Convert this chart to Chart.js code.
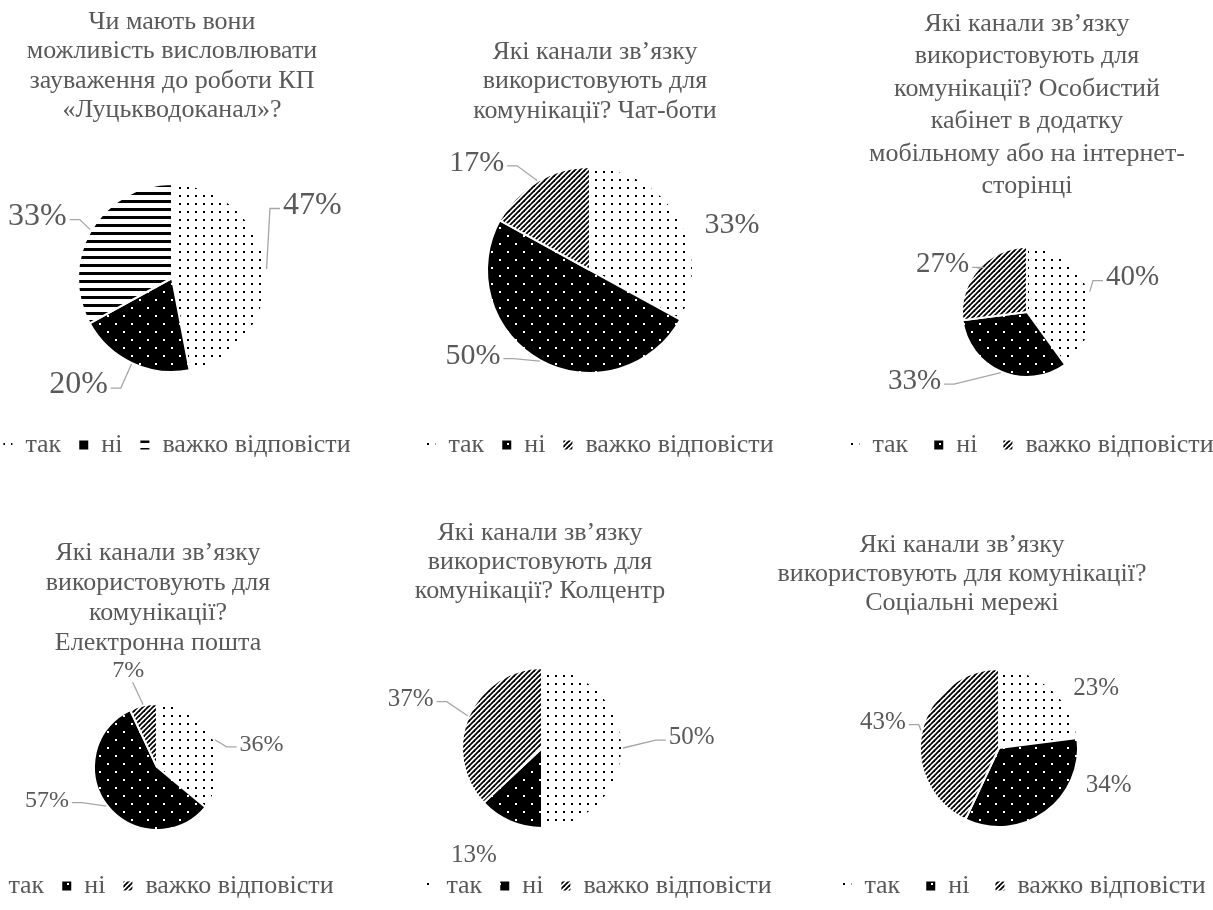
<!DOCTYPE html>
<html>
<head>
<meta charset="utf-8">
<script src="https://cdn.jsdelivr.net/npm/chart.js@4.4.1/dist/chart.umd.min.js"></script>
<style>
  html, body { margin: 0; padding: 0; background: #fff; }
  #page { position: relative; width: 1213px; height: 910px; overflow: hidden; }
  #page canvas { position: absolute; left: 0; top: 0; }
</style>
</head>
<body>
<div id="page"></div>
<script>
// ===== Data =====
const categories = ['так', 'ні', 'важко відповісти'];

const titles = [
  ['Чи мають вони', 'можливість висловлювати', 'зауваження до роботи КП', '«Луцькводоканал»?'],
  ['Які канали зв’язку', 'використовують для', 'комунікації? Чат-боти'],
  ['Які канали зв’язку', 'використовують для', 'комунікації? Особистий', 'кабінет в додатку', 'мобільному або на інтернет-', 'сторінці'],
  ['Які канали зв’язку', 'використовують для', 'комунікації?', 'Електронна пошта'],
  ['Які канали зв’язку', 'використовують для', 'комунікації? Колцентр'],
  ['Які канали зв’язку', 'використовують для комунікації?', 'Соціальні мережі']
];

const feedbackValues   = [47, 20, 33];
const chatbotValues    = [33, 50, 17];
const cabinetValues    = [40, 33, 27];
const emailValues      = [36, 57, 7];
const callCenterValues = [50, 13, 37];
const socialValues     = [23, 34, 43];

const series = [feedbackValues, chatbotValues, cabinetValues, emailValues, callCenterValues, socialValues];

// ===== Look =====
const FONT = '"Liberation Serif", "Times New Roman", serif';
const GREY = '#595959';
const LEADER = '#a6a6a6';
const TITLE_SIZE = 26;
const LEGEND_SIZE = 26;

// where each panel sits on the page (page pixels)
const panels = [
  { hatch: 'lines', title: { x: 172, y: 22, line: 29.5 }, pie: { x: 172, y: 278, r: 94 }, legend: { x: 177, y: 445, pad: 18 }, labelSize: 32,
    labels: [{ turn: -22, dist: 158, line: true }, { turn: 16, dist: 142, line: true }, { turn: -6, dist: 148, line: true }] },
  { hatch: 'diag', title: { x: 595, y: 52, line: 29.5 }, pie: { x: 590, y: 270, r: 103 }, legend: { x: 600, y: 445, pad: 18 }, labelSize: 30,
    labels: [{ turn: 13, dist: 149, line: false }, { turn: 25, dist: 145, line: true }, { turn: -16, dist: 156, line: true }] },
  { hatch: 'diag', title: { x: 1027, y: 24, line: 32.5 }, pie: { x: 1027, y: 312, r: 65 }, legend: { x: 1032, y: 445, pad: 26 }, labelSize: 29,
    labels: [{ turn: 0, dist: 111, line: true }, { turn: 35, dist: 132, line: true }, { turn: -12, dist: 97, line: true }] },
  { hatch: 'diag', title: { x: 158, y: 553, line: 30 }, pie: { x: 157, y: 767, r: 63 }, legend: { x: 160, y: 886, pad: 18 }, labelSize: 24,
    labels: [{ turn: 13, dist: 107, line: true }, { turn: 21, dist: 115, line: true }, { turn: -4, dist: 101, line: true }] },
  { hatch: 'diag', title: { x: 540, y: 533, line: 29 }, pie: { x: 542, y: 748, r: 80 }, legend: { x: 598, y: 886, pad: 18 }, labelSize: 25,
    labels: [{ turn: -4, dist: 150, line: true }, { turn: 9, dist: 127, line: false }, { turn: -3, dist: 140, line: true }] },
  { hatch: 'diag', title: { x: 962, y: 545, line: 29 }, pie: { x: 999, y: 748, r: 79 }, legend: { x: 1024, y: 886, pad: 26 }, labelSize: 25,
    labels: [{ turn: 17, dist: 114, line: false }, { turn: -35, dist: 116, line: false }, { turn: 0, dist: 119, line: true }] }
];

// ===== Pattern fills =====
function tile(w, h, paint) {
  const c = document.createElement('canvas');
  c.width = w; c.height = h;
  const g = c.getContext('2d');
  paint(g);
  return g.createPattern(c, 'repeat');
}

const lightDots = tile(8, 8, g => {
  g.fillStyle = '#fff'; g.fillRect(0, 0, 8, 8);
  g.fillStyle = '#000'; g.fillRect(3, 3, 2, 2);
});

const darkDots = tile(16, 16, g => {
  g.fillStyle = '#000'; g.fillRect(0, 0, 16, 16);
  g.fillStyle = '#fff'; g.fillRect(3, 3, 2, 2); g.fillRect(11, 11, 2, 2);
});

const stripes = tile(8, 8, g => {
  g.fillStyle = '#fff'; g.fillRect(0, 0, 8, 8);
  g.fillStyle = '#000'; g.fillRect(0, 0, 8, 3);
});

const diagonal = tile(5, 5, g => {
  g.fillStyle = '#fff'; g.fillRect(0, 0, 5, 5);
  g.strokeStyle = '#000'; g.lineWidth = 1.8;
  [-5, 0, 5].forEach(o => {
    g.beginPath(); g.moveTo(o - 1, 6); g.lineTo(o + 6, -1); g.stroke();
  });
});

// ===== Plugins =====
// puts title, legend and pie where the panel says
const placePlugin = {
  id: 'place',
  afterLayout(chart, args, opts) {
    const s = opts.spec;
    const t = chart.titleBlock;
    const tw = t.right - t.left, th = t.bottom - t.top;
    t.left = s.title.x - tw / 2; t.right = t.left + tw;
    t.top = s.title.y - s.title.line / 2; t.bottom = t.top + th;

    const l = chart.legend;
    const lw = l.right - l.left, lh = l.bottom - l.top;
    l.left = s.legend.x - lw / 2; l.right = l.left + lw;
    l.top = s.legend.y - s.legend.pad - LEGEND_SIZE / 2; l.bottom = l.top + lh;

    const { x, y, r } = s.pie;
    chart.chartArea = { left: x - r, top: y - r, right: x + r, bottom: y + r, width: 2 * r, height: 2 * r };
  }
};

// percentage labels outside the pie with leader lines
const labelPlugin = {
  id: 'pctLabels',
  afterDatasetsDraw(chart, args, opts) {
    const ctx = chart.ctx;
    const meta = chart.getDatasetMeta(0);
    const values = chart.data.datasets[0].data;
    ctx.save();
    ctx.font = opts.size + 'px ' + FONT;
    ctx.textAlign = 'center';
    ctx.textBaseline = 'middle';
    meta.data.forEach((arc, i) => {
      const p = arc.getProps(['x', 'y', 'startAngle', 'endAngle', 'outerRadius'], true);
      const mid = (p.startAngle + p.endAngle) / 2;
      const place = opts.places[i];
      const a = mid + place.turn * Math.PI / 180;
      const lx = p.x + Math.cos(a) * place.dist;
      const ly = p.y + Math.sin(a) * place.dist;
      const text = values[i] + '%';
      const w = ctx.measureText(text).width;

      if (place.line) {
        const sx = p.x + Math.cos(mid) * (p.outerRadius + 1);
        const sy = p.y + Math.sin(mid) * (p.outerRadius + 1);
        ctx.strokeStyle = LEADER;
        ctx.lineWidth = 1.3;
        ctx.beginPath();
        ctx.moveTo(sx, sy);
        if (Math.abs(Math.sin(a)) > 0.93) {
          const ey = ly + (Math.sin(a) < 0 ? 1 : -1) * opts.size * 0.5;
          ctx.lineTo(lx + (sx - lx) * 0.3, ey);
        } else {
          const side = lx > p.x ? -1 : 1;
          const ex = lx + side * (w / 2 + 3);
          const ey = ly + opts.size * 0.1;
          ctx.lineTo(ex + side * 10, ey);
          ctx.lineTo(ex, ey);
        }
        ctx.stroke();
      }
      ctx.fillStyle = GREY;
      ctx.fillText(text, lx, ly);
    });
    ctx.restore();
  }
};

// ===== Charts =====
const page = document.getElementById('page');

panels.forEach((p, k) => {
  const canvas = document.createElement('canvas');
  canvas.width = 1213;
  canvas.height = 910;
  page.appendChild(canvas);

  const fills = [lightDots, darkDots, p.hatch === 'lines' ? stripes : diagonal];

  new Chart(canvas, {
    type: 'pie',
    data: {
      labels: categories,
      datasets: [{
        data: series[k],
        backgroundColor: fills,
        borderColor: '#fff',
        borderWidth: 2,
        radius: p.pie.r,
        hoverOffset: 0
      }]
    },
    options: {
      responsive: false,
      animation: false,
      devicePixelRatio: 1,
      events: [],
      plugins: {
        title: {
          display: true,
          text: titles[k],
          color: GREY,
          padding: 0,
          font: { family: FONT, size: TITLE_SIZE, weight: 'normal', lineHeight: p.title.line / TITLE_SIZE }
        },
        legend: {
          position: 'bottom',
          labels: {
            color: GREY,
            boxWidth: 9,
            boxHeight: 9,
            padding: p.legend.pad,
            font: { family: FONT, size: LEGEND_SIZE },
            generateLabels: chart => chart.data.labels.map((text, i) => ({
              text,
              fillStyle: fills[i],
              strokeStyle: 'rgba(0,0,0,0)',
              lineWidth: 0,
              fontColor: GREY,
              hidden: false,
              index: i
            }))
          }
        },
        tooltip: { enabled: false },
        place: { spec: p },
        pctLabels: { size: p.labelSize, places: p.labels }
      }
    },
    plugins: [placePlugin, labelPlugin]
  });
});
</script>
</body>
</html>
